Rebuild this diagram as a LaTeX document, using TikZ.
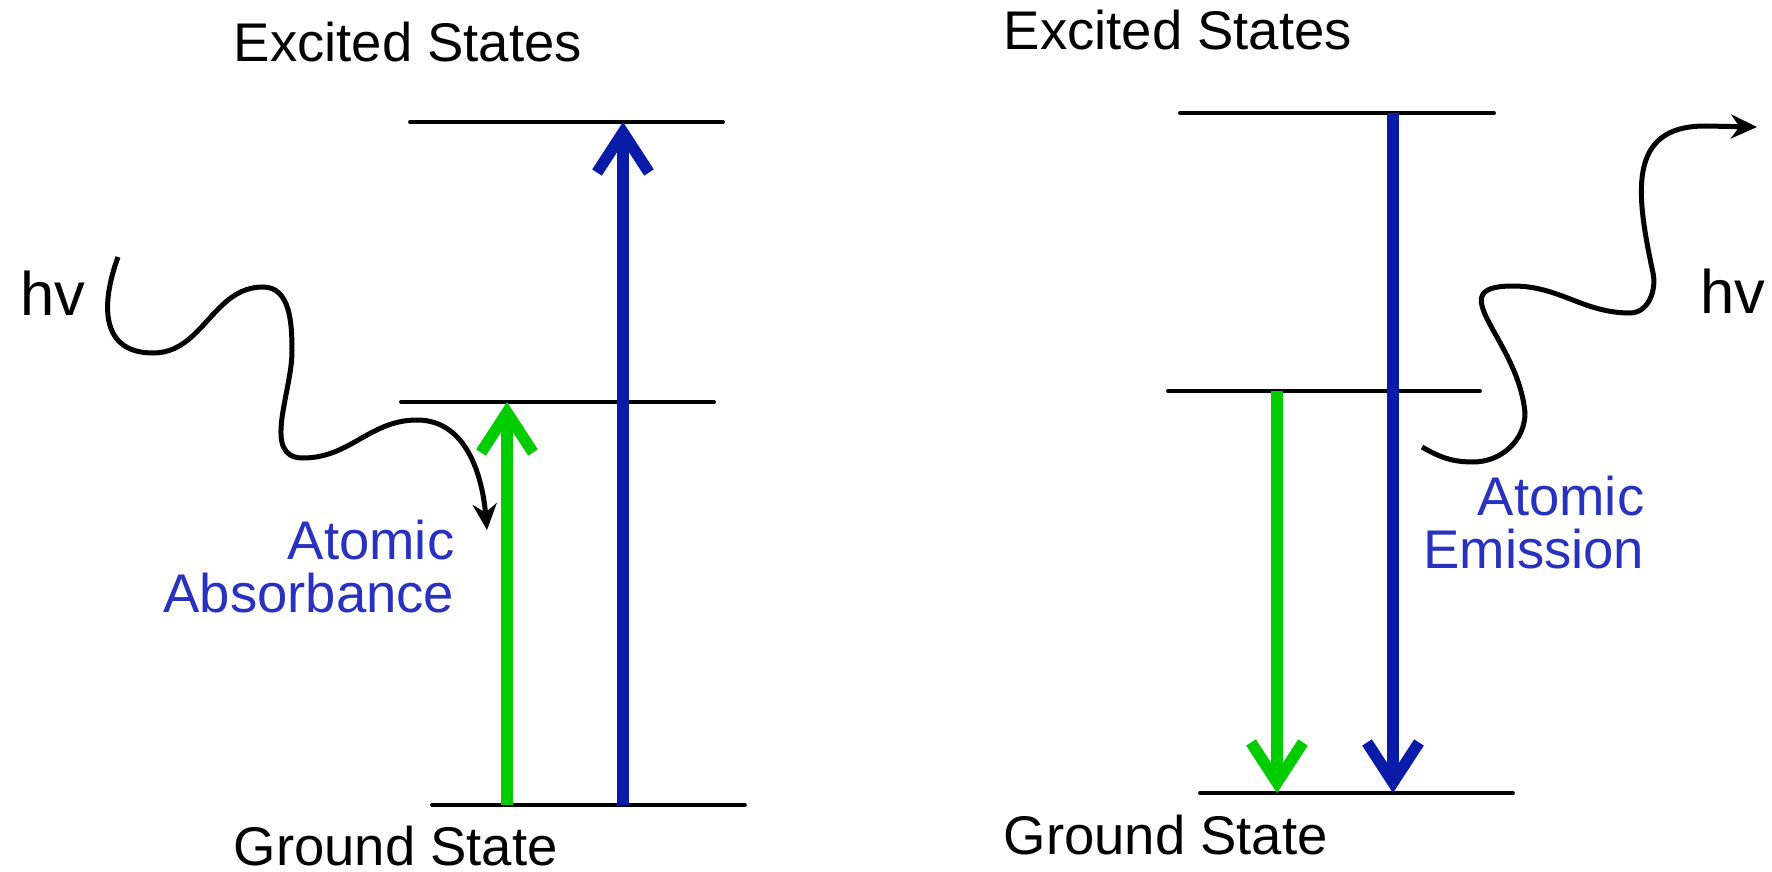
\documentclass[tikz,border=0pt]{standalone}
\usepackage{fontspec}
\setmainfont{Liberation Sans}
\usepackage{tkz-euclide}
\usetikzlibrary{arrows.meta}
\definecolor{BlueClr}{RGB}{8,28,168}
\definecolor{GreenClr}{RGB}{0,204,0}
\definecolor{TextClr}{RGB}{40,50,190}

\begin{document}
\begin{tikzpicture}[
  state/.style={font=\fontsize{15.5}{18}\selectfont,anchor=base west,inner sep=0pt},
  trans/.style={font=\fontsize{15.5}{15}\selectfont,color=TextClr,align=right,anchor=base east,inner sep=0pt},
  photon/.style={font=\fontsize{17.5}{20}\selectfont,anchor=base west,inner sep=0pt},
  jump/.style={line width=1.15mm,-{Straight Barb[length=4mm,width=5.2mm]}},
  wave/.style={line width=0.5mm,-{Stealth[length=2.6mm,width=2.4mm]}}]
\useasboundingbox (0,0) rectangle (17.72,8.71);
\tkzSetUpLine[line width=1.1pt,color=black]

% absorbance levels
\tkzDefPoints{4.10/7.49/A,7.23/7.49/B,4.01/4.69/C,7.14/4.69/D,4.32/0.66/E,7.45/0.66/F}
\tkzDefPoints{5.07/0.66/G,5.07/4.69/H,6.23/0.66/I,6.23/7.49/J}
% emission levels
\tkzDefPoints{11.80/7.58/K,14.94/7.58/L,11.68/4.80/M,14.80/4.80/N,12.00/0.78/O,15.13/0.78/P}
\tkzDefPoints{12.77/4.80/Q,12.77/0.78/R,13.93/7.58/S,13.93/0.78/T}

\tkzDrawSegments(A,B C,D E,F K,L M,N O,P)

\draw[jump,GreenClr] (G) -- (H);
\draw[jump,BlueClr] (I) -- (J);
\draw[jump,GreenClr] (Q) -- (R);
\draw[jump,BlueClr] (S) -- (T);

\node[state] (exA) at (2.33,8.09) {Excited States};
\node[state] (grA) at (2.33,0.06) {Ground State};
\node[state] (exE) at (10.03,8.21) {Excited States};
\node[state] (grE) at (10.03,0.17) {Ground State};

\node[trans] (abs) at (4.55,2.59) {Atomic\\Absorbance};
\node[trans] (emi) at (16.45,3.03) {Atomic\\Emission};

\node[photon] (hvA) at (0.20,5.56) {hv};
\node[photon] (hvE) at (17.00,5.58) {hv};

% incoming photon
\draw[wave] (1.18,6.14) to[out=250,in=180,looseness=1.3] (1.53,5.18)
  to[out=0,in=180] (2.63,5.84) to[out=0,in=90] (2.92,5.20)
  to[out=270,in=180] (3.03,4.13) to[out=0,in=180] (4.17,4.51)
  to[out=0,in=95] (4.87,3.41);
% outgoing photon
\draw[wave] (14.22,4.24) to[out=-30,in=180] (14.73,4.09)
  to[out=0,in=270] (15.25,4.58) to[out=95,in=180,looseness=1.5] (15.13,5.85)
  to[out=0,in=180] (16.30,5.58) to[out=0,in=282] (16.53,5.98)
  to[out=102,in=180,looseness=1.3] (17.05,7.45) -- (17.57,7.44);

\end{tikzpicture}
\end{document}
